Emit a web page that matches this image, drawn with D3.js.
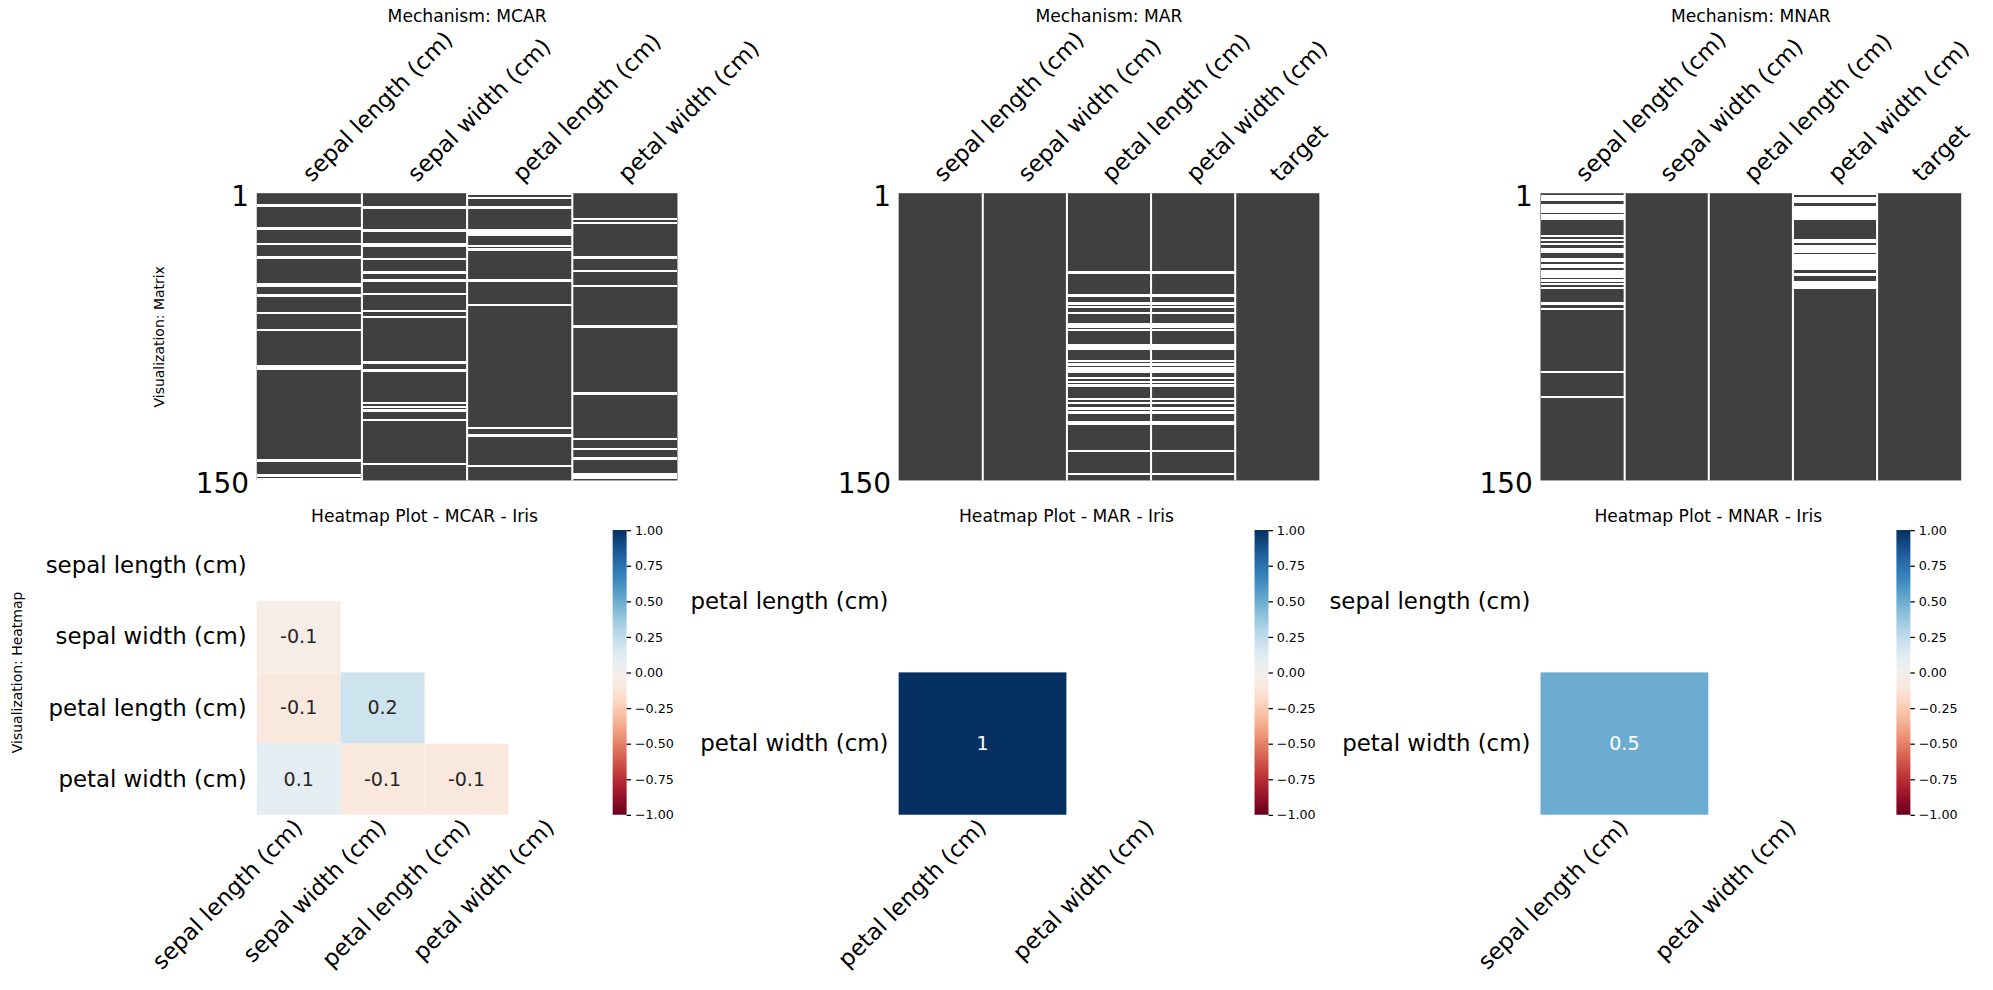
<!DOCTYPE html>
<html><head><meta charset="utf-8">
<script src="https://cdn.jsdelivr.net/npm/d3@7"></script>
<style>body{margin:0;background:#fff}text{font-family:"DejaVu Sans",sans-serif}</style>
</head><body>
<svg id="c" width="1993" height="990"></svg>
<script>
const mechanisms = ["MCAR", "MAR", "MNAR"];
const nRows = 150;
const matrixColumns = [
  ["sepal length (cm)", "sepal width (cm)", "petal length (cm)", "petal width (cm)"],
  ["sepal length (cm)", "sepal width (cm)", "petal length (cm)", "petal width (cm)", "target"],
  ["sepal length (cm)", "sepal width (cm)", "petal length (cm)", "petal width (cm)", "target"]
];
// missing row indices (0-based) per column
const missingMCAR = [
  [6, 18, 26, 33, 47, 48, 53, 62, 71, 90, 91, 139, 147, 149],
  [7, 19, 26, 27, 34, 41, 45, 52, 61, 64, 88, 92, 109, 111, 113, 118, 141],
  [0, 2, 7, 19, 20, 21, 27, 29, 45, 58, 122, 126, 142],
  [13, 15, 33, 40, 48, 69, 104, 128, 133, 138, 146, 147, 148]
];
const marRows = [41, 53, 57, 59, 62, 68, 69, 71, 79, 80, 81, 87, 89, 91, 92, 93, 96, 98, 100, 107, 109, 112, 114, 119, 120, 134, 146];
const missingMAR = [[], [], marRows, marRows, []];
const missingMNAR = [
  [1, 2, 3, 6, 7, 8, 9, 11, 12, 13, 22, 24, 26, 29, 30, 34, 35, 37, 38, 40, 41, 42, 43, 45, 47, 49, 57, 60, 93, 106],
  [], [],
  [0, 2, 3, 4, 7, 8, 9, 10, 11, 12, 13, 24, 25, 27, 28, 29, 30, 32, 33, 34, 35, 36, 37, 38, 39, 42, 46, 47, 48, 49],
  []
];
const missing = [missingMCAR, missingMAR, missingMNAR];

const heatLabels = [
  ["sepal length (cm)", "sepal width (cm)", "petal length (cm)", "petal width (cm)"],
  ["petal length (cm)", "petal width (cm)"],
  ["sepal length (cm)", "petal width (cm)"]
];
// lower-triangle values [row, col, value, label]
const heatValues = [
  [[1, 0, -0.05, "-0.1"], [2, 0, -0.1, "-0.1"], [2, 1, 0.2, "0.2"], [3, 0, 0.1, "0.1"], [3, 1, -0.1, "-0.1"], [3, 2, -0.1, "-0.1"]],
  [[1, 0, 1.0, "1"]],
  [[1, 0, 0.5, "0.5"]]
];
const cbTicks = [1, 0.75, 0.5, 0.25, 0, -0.25, -0.5, -0.75, -1];

const S = 1993 / 1568;
const root = d3.select("#c").append("g").attr("transform", `scale(${S})`);
const panelX = [202, 707, 1212];
const mW = 331, mTop = 152, mBot = 378;
const color = v => d3.interpolateRdBu((v + 1) / 2);
const fmt = v => (v < 0 ? "\u2212" : "") + Math.abs(v).toFixed(2);

mechanisms.forEach((m, p) => {
  const g = root.append("g");
  const x0 = panelX[p];
  const cols = matrixColumns[p];
  const x = d3.scaleBand().domain(cols).range([x0, x0 + mW]);
  const y = d3.scaleLinear().domain([0, nRows]).range([mTop, mBot]);
  g.append("text").attr("x", x0 + mW / 2).attr("y", 17).attr("text-anchor", "middle")
    .attr("font-size", 13.5).text("Mechanism: " + m);
  g.append("rect").attr("x", x0).attr("y", mTop).attr("width", mW).attr("height", mBot - mTop).attr("fill", "#404040");
  cols.forEach((c, ci) => {
    missing[p][ci].forEach(r => {
      g.append("rect").attr("x", x(c)).attr("width", x.bandwidth()).attr("y", y(r) - 0.2).attr("height", y(r + 1) - y(r) + 0.4)
        .attr("fill", "#fff").attr("shape-rendering", "crispEdges");
    });
    if (ci > 0) g.append("line").attr("x1", x(c)).attr("x2", x(c)).attr("y1", mTop).attr("y2", mBot).attr("stroke", "#fff").attr("stroke-width", 1.6);
    const cx = x(c) + x.bandwidth() / 2;
    g.append("text").attr("transform", `translate(${cx + 2},${mTop - 8}) rotate(-45)`).attr("font-size", 18).text(c);
  });
  g.append("text").attr("x", x0 - 6).attr("y", mTop + 10).attr("text-anchor", "end").attr("font-size", 22).text("1");
  g.append("text").attr("x", x0 - 6).attr("y", mBot + 10).attr("text-anchor", "end").attr("font-size", 22).text("150");

  // heatmap
  const labs = heatLabels[p];
  const hxb = d3.scaleBand().domain(labs).range([x0, x0 + 264]);
  const hy = d3.scaleBand().domain(labs).range([417, 641]);
  g.append("text").attr("x", x0 + 132).attr("y", 411).attr("text-anchor", "middle").attr("font-size", 13.5)
    .text("Heatmap Plot - " + m + " - Iris");
  heatValues[p].forEach(([r, c, v, t]) => {
    g.append("rect").attr("x", hxb(labs[c])).attr("y", hy(labs[r])).attr("width", hxb.bandwidth()).attr("height", hy.bandwidth()).attr("fill", color(v));
    g.append("text").attr("x", hxb(labs[c]) + hxb.bandwidth() / 2).attr("y", hy(labs[r]) + hy.bandwidth() / 2 + 5)
      .attr("text-anchor", "middle").attr("font-size", 15).attr("fill", v > 0.4 ? "#fff" : "#262626").text(t);
  });
  labs.forEach(l => {
    g.append("text").attr("x", x0 - 8).attr("y", hy(l) + hy.bandwidth() / 2 + 6).attr("text-anchor", "end").attr("font-size", 18).text(l);
    const cx = hxb(l) + hxb.bandwidth() / 2;
    g.append("text").attr("transform", `translate(${cx + 4},${652}) rotate(-45)`).attr("text-anchor", "end").attr("font-size", 18).text(l);
  });
  // colorbar
  const cbx = x0 + 280, cbw = 11;
  const cy = d3.scaleLinear().domain([-1, 1]).range([641, 417]);
  const grad = root.append("defs").append("linearGradient").attr("id", "g" + p).attr("x1", 0).attr("y1", 1).attr("x2", 0).attr("y2", 0);
  d3.range(0, 1.0001, 0.05).forEach(t => grad.append("stop").attr("offset", t).attr("stop-color", d3.interpolateRdBu(t)));
  g.append("rect").attr("x", cbx).attr("y", 417).attr("width", cbw).attr("height", 224).attr("fill", `url(#g${p})`);
  const ax = g.append("g").attr("transform", `translate(${cbx + cbw},0)`)
    .call(d3.axisRight(cy).tickValues(cbTicks).tickFormat(fmt).tickSize(3.5).tickPadding(3));
  ax.select(".domain").remove();
  ax.selectAll("text").attr("font-size", 10).attr("font-family", "DejaVu Sans");
});
root.append("text").attr("transform", "translate(129,265) rotate(-90)").attr("text-anchor", "middle").attr("font-size", 11).text("Visualization: Matrix");
root.append("text").attr("transform", "translate(17,529) rotate(-90)").attr("text-anchor", "middle").attr("font-size", 11).text("Visualization: Heatmap");
</script></body></html>
